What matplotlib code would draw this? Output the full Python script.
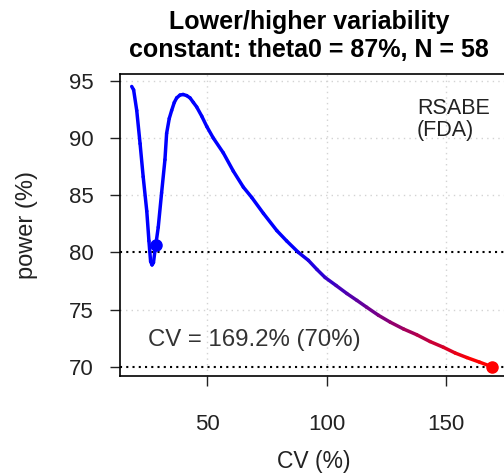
import matplotlib
matplotlib.use("Agg")
import matplotlib.pyplot as plt
import numpy as np
from matplotlib.collections import LineCollection
from matplotlib.colors import LinearSegmentedColormap, Normalize

plt.rcParams['font.family'] = ['Liberation Sans', 'DejaVu Sans']

# power (%) at each CV (%)
cv = [18.5, 19.3, 20.6, 22.0, 23.3, 24.8, 25.7, 26.4, 27.0, 27.6, 28.2,
      29.6, 31.0, 32.4, 33.1, 34.2, 35.2, 36.3, 37.3, 38.7, 40.0, 41.5,
      42.9, 44.3, 45.7, 47.8, 49.9, 52.6, 56.8, 61.0, 65.2, 68.7, 73.6,
      79.2, 83.3, 88.2, 92.4, 96.0, 99.4, 104.0, 108.5, 112.7, 116.8,
      121.7, 126.6, 132.2, 137.7, 143.3, 148.9, 153.8, 158.7, 164.0, 169.2]
power = [94.5, 94.2, 92.4, 89.5, 86.6, 83.6, 81.0, 79.2, 78.9, 79.1, 80.1,
         82.2, 85.2, 88.1, 90.4, 91.7, 92.4, 93.1, 93.5, 93.75, 93.8, 93.7,
         93.5, 93.1, 92.7, 91.9, 91.0, 90.0, 88.7, 87.1, 85.7, 84.8, 83.4,
         81.9, 81.0, 80.0, 79.3, 78.5, 77.8, 77.1, 76.4, 75.8, 75.2,
         74.5, 73.9, 73.3, 72.8, 72.2, 71.7, 71.2, 70.8, 70.4, 70.0]

# marked points
pt_blue = (28.6, 80.6)
pt_red = (169.2, 70.0)

xticks = [50, 100, 150]
yticks = [70, 75, 80, 85, 90, 95]
ref_lines = [80, 70]

fig = plt.figure(figsize=(5.04, 4.74), dpi=100)
ax = fig.add_axes([120/504, 98/474, 388/504, 302/474])
ax.set_xlim(13.6, 175.9)
ax.set_ylim(69.19, 95.59)

# light grid
for x in xticks:
    ax.axvline(x, color='#d3d3d3', lw=1.0, ls=(0, (1, 3)), zorder=0)
for y in yticks:
    if y not in ref_lines:
        ax.axhline(y, color='#d3d3d3', lw=1.0, ls=(0, (1, 3)), zorder=0)
for y in ref_lines:
    ax.axhline(y, color='black', lw=1.5, ls=(0, (1, 2)), zorder=1)

# curve coloured blue -> red
pts = np.column_stack([cv, power])
segs = np.stack([pts[:-1], pts[1:]], axis=1)
mid = (pts[:-1, 0] + pts[1:, 0]) / 2
cmap = LinearSegmentedColormap.from_list('br', ['#0000ff', '#ff0000'])
lc = LineCollection(segs, colors=cmap(Normalize(85, 162, clip=True)(mid)),
                    linewidths=2.5, capstyle='round', joinstyle='round', zorder=3)
ax.add_collection(lc)
ax.plot(*pt_blue, 'o', color='#0000ff', ms=8, zorder=4)
ax.plot(*pt_red, 'o', color='#ff0000', ms=8, zorder=4, clip_on=False)

ax.text(0.765, 0.92, 'RSABE\n(FDA)', transform=ax.transAxes, fontsize=15.5,
        ha='left', va='top', linespacing=1.05, color='#222222')
ax.text(0.072, 0.119, 'CV = 169.2% (70%)', transform=ax.transAxes, fontsize=17.3,
        ha='left', va='center', color='#333333')

ax.set_xticks(xticks)
ax.set_yticks(yticks)
ax.tick_params(direction='out', length=7, width=1, labelsize=16, colors='#222222')
ax.tick_params(axis='x', pad=20)
ax.tick_params(axis='y', pad=12)
for s in ax.spines.values():
    s.set_linewidth(1.2)
ax.set_xlabel('CV (%)', fontsize=16.5, labelpad=11, color='#222222')
ax.set_ylabel('power (%)', fontsize=17, labelpad=22, color='#222222')

fig.text(309/504, 1 - 22/474, 'Lower/higher variability', ha='center', va='center',
         fontsize=18, fontweight='bold')
fig.text(309/504, 1 - 50/474, 'constant: theta0 = 87%, N = 58', ha='center', va='center',
         fontsize=18, fontweight='bold')

fig.savefig('out.png', dpi=100)
